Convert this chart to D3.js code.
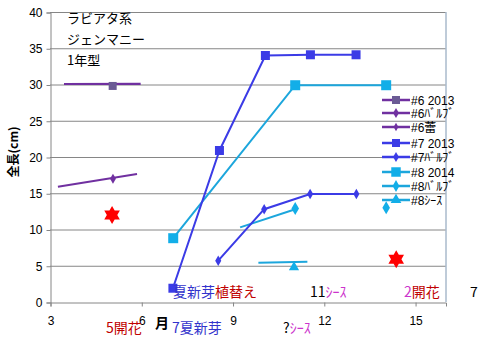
<!DOCTYPE html>
<html><head><meta charset="utf-8">
<script src="https://cdn.jsdelivr.net/npm/d3@7"></script>
<style>body{margin:0;background:#fff}svg{display:block}</style>
</head><body>
<script>
// ---- data ----
const xTicks = [3, 6, 9, 12, 15];
const yTicks = [0, 5, 10, 15, 20, 25, 30, 35, 40];
const s6_2013 = [[5.06, 29.8]];
const s6_2013Trend = [[3.46, 30.07], [5.98, 30.1]];
const s6_bulb = [[5.07, 17.0]];
const s6_bulbTrend = [[3.26, 15.9], [5.86, 17.65]];
const stars = [[5.04, 12.0], [14.38, 5.9]];
const s7_2013 = [[7.04, 1.9], [8.57, 20.9], [10.08, 34.0], [11.56, 34.1], [13.06, 34.1]];
const s7_bulb = [[8.53, 5.7], [10.04, 12.8], [11.55, 14.9], [13.07, 14.9]];
const s8_2014 = [[7.05, 8.8], [11.06, 29.9], [14.05, 29.9]];
const s8_bulb = [[11.06, 12.9], [14.05, 13.0]];
const s8_bulbTrend = [[9.25, 10.3], [11.06, 12.8]];
const s8_sheath = [[11.02, 4.8]];
const s8_sheathTrend = [[9.85, 5.4], [11.46, 5.55]];
const legendNames = ["#6 2013", "#6ﾊﾞﾙﾌﾞ", "#6蕾", "#7 2013", "#7ﾊﾞﾙﾌﾞ", "#8 2014", "#8ﾊﾞﾙﾌﾞ", "#8ｼｰｽ"];
const titleLines = ["ラビアタ系", "ジェンマニー", "1年型"];

const cPurple = "#7030a0", cPurpleM = "#6b5b95", cBlue = "#3b3be6", cCyan = "#1ca6dc", cCyanM = "#12aee8";
const legendStyles = [
  {line: cPurple, fill: cPurpleM, sym: d3.symbolSquare, size: 64},
  {line: cPurple, fill: cPurple, sym: d3.symbolDiamond, size: 30},
  {line: cPurple, fill: cPurple, sym: d3.symbolDiamond, size: 20},
  {line: cBlue, fill: cBlue, sym: d3.symbolSquare, size: 64},
  {line: cBlue, fill: cBlue, sym: d3.symbolDiamond, size: 30},
  {line: cCyan, fill: cCyanM, sym: d3.symbolSquare, size: 90},
  {line: cCyan, fill: cCyanM, sym: d3.symbolDiamond, size: 40},
  {line: cCyan, fill: cCyanM, sym: d3.symbolTriangle, size: 50}
];

const W = 488, H = 341;
const svg = d3.select("body").append("svg").attr("width", W).attr("height", H)
  .style("font-family", "Arial, 'Liberation Sans', 'Noto Sans CJK JP', sans-serif");
const x = d3.scaleLinear().domain([3, 16]).range([50, 445.5]);
const y = d3.scaleLinear().domain([0, 40]).range([302, 12]);

// gridlines
svg.append("g").selectAll("line").data(yTicks.filter(d => d > 0)).join("line")
  .attr("x1", x(3)).attr("x2", x(16)).attr("y1", d => y(d) + 0.5).attr("y2", d => y(d) + 0.5)
  .attr("stroke", "#868686").attr("stroke-width", 1);
// right border
svg.append("line").attr("x1", x(16) + 0.5).attr("x2", x(16) + 0.5).attr("y1", y(40)).attr("y2", y(0))
  .attr("stroke", "#7f97b2");

// axes
const yAxis = svg.append("g").attr("transform", `translate(${x(3) + 0.5},0.5)`)
  .call(d3.axisLeft(y).tickValues(yTicks).tickSize(4).tickPadding(4));
const xAxis = svg.append("g").attr("transform", `translate(0.5,${y(0) + 0.5})`)
  .call(d3.axisBottom(x).tickValues(xTicks).tickSize(4).tickPadding(8));
[yAxis, xAxis].forEach(a => {
  a.select(".domain").attr("stroke", "#868686");
  a.selectAll(".tick line").attr("stroke", "#868686");
  a.selectAll("text").attr("font-size", 12).attr("fill", "#000")
    .attr("font-family", "Arial, 'Liberation Sans', sans-serif");
});
xAxis.selectAll("text").attr("dy", "0.9em");

// y label
svg.append("text").attr("transform", `translate(18,152) rotate(-90)`)
  .attr("text-anchor", "middle").attr("font-size", 12).attr("font-weight", "bold")
  .style("font-family", "'Noto Sans CJK JP', sans-serif").text("全長(cm)");

// title lines
svg.append("g").selectAll("text").data(titleLines).join("text")
  .attr("x", 67).attr("y", (d, i) => 23 + i * 21).attr("font-size", 13)
  .style("font-family", "'Noto Sans CJK JP', sans-serif").text(d => d);

const line = d3.line().x(d => x(d[0])).y(d => y(d[1]));
function drawLine(data, color, w) {
  svg.append("path").datum(data).attr("d", line).attr("fill", "none")
    .attr("stroke", color).attr("stroke-width", w || 2);
}
function drawMarks(data, sym, size, fill) {
  svg.append("g").selectAll("path").data(data).join("path")
    .attr("transform", d => `translate(${x(d[0])},${y(d[1])})`)
    .attr("d", d3.symbol().type(sym).size(size)).attr("fill", fill);
}

drawLine(s6_2013Trend, cPurple, 2.2);
drawMarks(s6_2013, d3.symbolSquare, 64, cPurpleM);
drawLine(s6_bulbTrend, cPurple, 2);
drawMarks(s6_bulb, d3.symbolDiamond, 30, cPurple);

drawLine(s8_2014, cCyan, 2);
drawMarks(s8_2014, d3.symbolSquare, 100, cCyanM);
drawLine(s8_bulbTrend, cCyan, 2);
drawMarks(s8_bulb, d3.symbolDiamond, 50, cCyanM);
drawLine(s8_sheathTrend, cCyan, 2);
drawMarks(s8_sheath, d3.symbolTriangle, 45, cCyanM);

drawLine(s7_2013, cBlue, 2);
drawMarks(s7_2013, d3.symbolSquare, 81, cBlue);
drawLine(s7_bulb, cBlue, 2);
drawMarks(s7_bulb, d3.symbolDiamond, 32, cBlue);

// hexagram stars
function hexagram(r) {
  const pts = [];
  for (let i = 0; i < 12; i++) {
    const a = -Math.PI / 2 + i * Math.PI / 6;
    const rr = i % 2 === 0 ? r : r * 0.58;
    pts.push([rr * Math.cos(a), rr * Math.sin(a)]);
  }
  return "M" + pts.map(p => p.join(",")).join("L") + "Z";
}
svg.append("g").selectAll("path").data(stars).join("path")
  .attr("transform", d => `translate(${x(d[0])},${y(d[1])})`)
  .attr("d", hexagram(9)).attr("fill", "#ff0000");

// legend
const lg = svg.append("g").selectAll("g").data(legendNames).join("g")
  .attr("transform", (d, i) => `translate(382,${[100, 113, 127, 143, 157, 172, 186, 200][i]})`);
lg.append("line").attr("x1", 0).attr("x2", 28).attr("stroke", (d, i) => legendStyles[i].line).attr("stroke-width", 2.5);
lg.append("path").attr("transform", "translate(14,0)")
  .attr("d", (d, i) => d3.symbol().type(legendStyles[i].sym).size(legendStyles[i].size)())
  .attr("fill", (d, i) => legendStyles[i].fill);
lg.append("text").attr("x", 29).attr("y", 4.5).attr("font-size", 12)
  .style("font-family", "Arial, 'Liberation Sans', 'Noto Sans CJK JP', sans-serif").text(d => d);

// annotations
const cB = "#3333cc", cR = "#c00000", cM = "#cc33cc", cK = "#000";
const notes = [
  {x: 173, y: 297, parts: [["夏新芽", cB], ["植替え", cR]]},
  {x: 310, y: 297, parts: [["11", cK], ["ｼｰｽ", cM]]},
  {x: 404, y: 297, parts: [["2", cM], ["開花", cR]]},
  {x: 470, y: 297, parts: [["7", cK]]},
  {x: 106, y: 333, parts: [["5", cR], ["開花", cR]]},
  {x: 172, y: 333, parts: [["7", cB], ["夏新芽", cB]]},
  {x: 283, y: 333, parts: [["?", cK], ["ｼｰｽ", cM]]}
];
notes.forEach(n => {
  const t = svg.append("text").attr("x", n.x).attr("y", n.y).attr("font-size", 14)
    .style("font-family", "'Noto Sans CJK JP', sans-serif");
  n.parts.forEach(p => t.append("tspan").attr("fill", p[1]).text(p[0]));
});
svg.append("text").attr("x", 155).attr("y", 328).attr("font-size", 14).attr("font-weight", "bold")
  .style("font-family", "'Noto Sans CJK JP', sans-serif").text("月");
</script>
</body></html>
